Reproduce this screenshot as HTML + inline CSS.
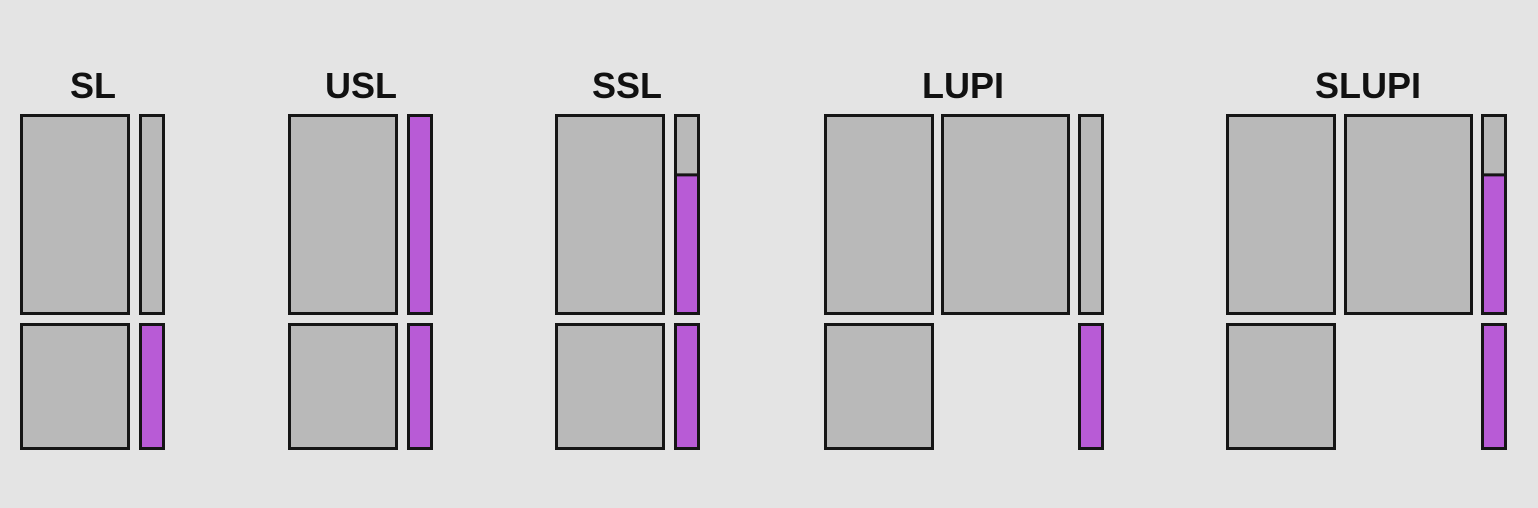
<!DOCTYPE html>
<html><head><meta charset="utf-8"><style>
html,body{margin:0;padding:0;background:#e4e4e4;}
svg{display:block;}
</style></head><body>
<svg id="c" width="1538" height="508" xmlns="http://www.w3.org/2000/svg"></svg>
<script>
const titles = ["SL","USL","SSL","LUPI","SLUPI"];
const panelX = [20,288,555,824,1226];
const titleX = [93,361,627,963,1368];
// each panel: list of [dx, width, row(0 top/1 bottom), fillFraction purple (from bottom)]
const panelBoxes = [
  [[0,110,0,0],[119,26,0,0],[0,110,1,0],[119,26,1,1]],
  [[0,110,0,0],[119,26,0,1],[0,110,1,0],[119,26,1,1]],
  [[0,110,0,0],[119,26,0,0.7],[0,110,1,0],[119,26,1,1]],
  [[0,110,0,0],[117,129,0,0],[254,26,0,0],[0,110,1,0],[254,26,1,1]],
  [[0,110,0,0],[118,129,0,0],[255,26,0,0.7],[0,110,1,0],[255,26,1,1]]
];
const rowY=[114,323], rowH=[201,127];
const svg=document.getElementById('c');
const NS='http://www.w3.org/2000/svg';
function mk(t,a){const e=document.createElementNS(NS,t);for(const k in a)e.setAttribute(k,a[k]);svg.appendChild(e);return e;}
titles.forEach((t,i)=>{
  const tx=mk('text',{x:titleX[i],y:98,'text-anchor':'middle','font-family':'Liberation Sans, sans-serif','font-weight':'bold','font-size':'36',fill:'#111'});
  tx.textContent=t;
  
  
  panelBoxes[i].forEach((b,j)=>{
    const x=panelX[i]+b[0]+1.5, y=rowY[b[2]]+1.5, w=b[1]-3, h=rowH[b[2]]-3;
    const r=mk('rect',{x:x,y:y,width:w,height:h,fill:'#b9b9b9'});
    
    
    if(b[3]>0){
      const ph=h*b[3];
      const p=mk('rect',{x:x,y:y+h-ph,width:w,height:ph,fill:'#b85bd6'});
      
      
      if(b[3]<1) mk('line',{x1:x,x2:x+w,y1:y+h-ph,y2:y+h-ph,stroke:'#151515','stroke-width':3});
    }
    mk('rect',{x:x,y:y,width:w,height:h,fill:'none',stroke:'#151515','stroke-width':3});
  });
});
</script>
</body></html>
